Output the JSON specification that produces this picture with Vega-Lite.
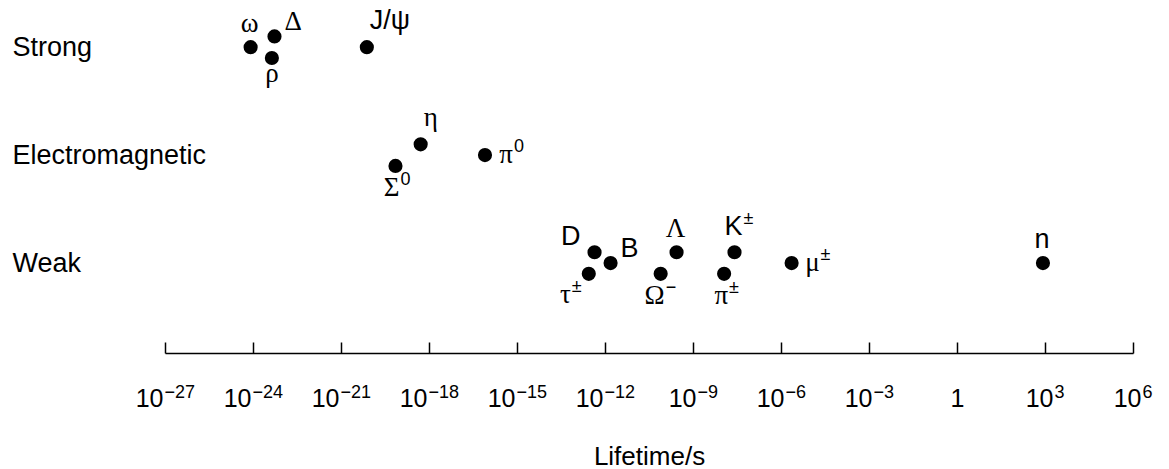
{
  "$schema": "https://vega.github.io/schema/vega-lite/v6.json",
  "width": 968,
  "height": 349,
  "autosize": "none",
  "padding": {"left": 165, "top": 4, "right": 36, "bottom": 116},
  "background": "white",
  "config": {"view": {"stroke": null}, "font": "Liberation Sans"},
  "data": {
    "values": [
      {"particle": "omega", "force": "Strong", "lifetime": 8.3e-25, "level": 3.0, "label": "ω", "sup": "", "pos": "N"},
      {"particle": "Delta", "force": "Strong", "lifetime": 5.4e-24, "level": 3.1, "label": "Δ", "sup": "", "pos": "ENE"},
      {"particle": "rho", "force": "Strong", "lifetime": 4.4e-24, "level": 2.9, "label": "ρ", "sup": "", "pos": "S"},
      {"particle": "J/psi", "force": "Strong", "lifetime": 7.6e-21, "level": 3.0, "label": "J/ψ", "sup": "", "pos": "NE"},
      {"particle": "eta", "force": "Electromagnetic", "lifetime": 5.2e-19, "level": 2.1, "label": "η", "sup": "", "pos": "NE"},
      {"particle": "Sigma0", "force": "Electromagnetic", "lifetime": 7.2e-20, "level": 1.9, "label": "Σ", "sup": "0", "pos": "S"},
      {"particle": "pi0", "force": "Electromagnetic", "lifetime": 8.1e-17, "level": 2.0, "label": "π", "sup": "0", "pos": "E"},
      {"particle": "D", "force": "Weak", "lifetime": 4.4e-13, "level": 1.1, "label": "D", "sup": "", "pos": "NW"},
      {"particle": "B", "force": "Weak", "lifetime": 1.55e-12, "level": 1.0, "label": "B", "sup": "", "pos": "ENE"},
      {"particle": "tau", "force": "Weak", "lifetime": 2.8e-13, "level": 0.9, "label": "τ", "sup": "±", "pos": "SW"},
      {"particle": "Lambda", "force": "Weak", "lifetime": 2.75e-10, "level": 1.1, "label": "Λ", "sup": "", "pos": "N"},
      {"particle": "Omega-", "force": "Weak", "lifetime": 7.9e-11, "level": 0.9, "label": "Ω", "sup": "−", "pos": "S"},
      {"particle": "K", "force": "Weak", "lifetime": 2.6e-8, "level": 1.1, "label": "K", "sup": "±", "pos": "N"},
      {"particle": "pi", "force": "Weak", "lifetime": 1.15e-8, "level": 0.9, "label": "π", "sup": "±", "pos": "S"},
      {"particle": "mu", "force": "Weak", "lifetime": 2.3e-6, "level": 1.0, "label": "μ", "sup": "±", "pos": "E"},
      {"particle": "n", "force": "Weak", "lifetime": 851, "level": 1.0, "label": "n", "sup": "", "pos": "N"}
    ]
  },
  "encoding": {
    "y": {
      "field": "level",
      "type": "quantitative",
      "scale": {"domain": [0.1667, 3.4], "nice": false, "zero": false},
      "axis": {
        "values": [1, 2, 3],
        "labelExpr": "datum.value == 3 ? 'Strong' : datum.value == 2 ? 'Electromagnetic' : 'Weak'",
        "domain": false,
        "ticks": false,
        "grid": false,
        "title": null,
        "labelAlign": "left",
        "labelBaseline": "middle",
        "labelPadding": 153,
        "labelLimit": 500,
        "labelFontSize": 27,
        "labelColor": "black"
      }
    }
  },
  "resolve": {"axis": {"x": "independent"}},
  "layer": [
    {
      "encoding": {
        "x": {
          "field": "lifetime",
          "type": "quantitative",
          "scale": {"type": "log", "domain": [1e-27, 1e6], "nice": false},
          "axis": {
            "orient": "bottom",
            "values": [1e-27, 1e-24, 1e-21, 1e-18, 1e-15, 1e-12, 1e-9, 1e-6, 1e-3, 1, 1e3, 1e6],
            "labelExpr": "datum.value == 1 ? '1' : '10'",
            "grid": false,
            "domainColor": "black",
            "domainWidth": 1.5,
            "tickColor": "black",
            "tickWidth": 1.5,
            "tickSize": -11,
            "labelFlush": false,
            "labelOverlap": false,
            "labelFontSize": 25,
            "labelColor": "black",
            "labelBaseline": "alphabetic",
            "labelAlign": {"condition": {"test": "datum.value == 1", "value": "center"}, "value": "right"},
            "labelOffset": {
              "condition": [
                {"test": "datum.value == 1", "value": 0},
                {"test": "datum.value < 1e-10", "value": -2},
                {"test": "datum.value < 1e-2", "value": 3},
                {"test": "datum.value > 1", "value": 8}
              ],
              "value": 0
            },
            "labelPadding": 64,
            "title": "Lifetime/s",
            "titleFontSize": 26,
            "titleFontWeight": "normal",
            "titleColor": "black",
            "titlePadding": 32
          }
        }
      },
      "layer": [
        {
          "mark": {"type": "point", "shape": "circle", "filled": true, "color": "black", "opacity": 1, "size": 200, "strokeWidth": 0}
        },
        {
          "mark": {
            "type": "text",
            "color": "black",
            "fontSize": 27,
            "baseline": "alphabetic",
            "font": {"expr": "test(/[A-Za-z]/, datum.label) ? 'Liberation Sans' : 'Liberation Serif'"},
            "align": {"expr": "datum.sup != '' ? 'right' : (datum.pos == 'N' || datum.pos == 'S') ? 'center' : (datum.pos == 'NE' || datum.pos == 'ENE') ? 'left' : 'right'"},
            "dx": {"expr": "datum.pos == 'N' ? (datum.sup != '' ? 8 : -1) : datum.pos == 'S' ? (datum.sup != '' ? 4 : 0) : datum.pos == 'E' ? 28 : datum.pos == 'NE' ? 3 : datum.pos == 'ENE' ? 10 : datum.pos == 'NW' ? -14 : -18"},
            "dy": {"expr": "datum.pos == 'N' ? (datum.sup != '' ? -17 : -15) : datum.pos == 'S' ? (datum.sup != '' ? 30 : 24) : datum.pos == 'E' ? 8 : datum.pos == 'NE' ? -18 : datum.pos == 'ENE' ? -6 : datum.pos == 'NW' ? -7 : 29"}
          },
          "encoding": {"text": {"field": "label"}}
        }
      ]
    },
    {
      "transform": [{"filter": "datum.sup != ''"}],
      "mark": {
        "type": "text",
        "color": "black",
        "fontSize": 18,
        "baseline": "alphabetic",
        "align": "left",
        "font": "Liberation Sans",
        "dx": {"expr": "datum.pos == 'N' ? 9 : datum.pos == 'S' ? 5 : datum.pos == 'E' ? 29 : -17"},
        "dy": {"expr": "datum.pos == 'N' ? -28 : datum.pos == 'S' ? 19 : datum.pos == 'E' ? -3 : 18"}
      },
      "encoding": {
        "text": {"field": "sup"},
        "x": {
          "field": "lifetime",
          "type": "quantitative",
          "scale": {"type": "log", "domain": [1e-27, 1e6], "nice": false},
          "axis": {
            "orient": "bottom",
            "values": [1e-27, 1e-24, 1e-21, 1e-18, 1e-15, 1e-12, 1e-9, 1e-6, 1e-3, 1, 1e3, 1e6],
            "labelExpr": "['−27','−24','−21','−18','−15','−12','−9','−6','−3','','3','6'][round((log(datum.value)/LN10+27)/3)]",
            "grid": false,
            "domain": false,
            "ticks": false,
            "tickSize": 0,
            "labelFlush": false,
            "labelOverlap": false,
            "labelFontSize": 18,
            "labelColor": "black",
            "labelBaseline": "alphabetic",
            "labelAlign": "left",
            "labelOffset": {
              "condition": [
                {"test": "datum.value == 1", "value": 0},
                {"test": "datum.value < 1e-10", "value": -1},
                {"test": "datum.value < 1e-2", "value": 4},
                {"test": "datum.value > 1", "value": 9}
              ],
              "value": 0
            },
            "labelPadding": 44,
            "title": null
          }
        }
      }
    }
  ]
}
